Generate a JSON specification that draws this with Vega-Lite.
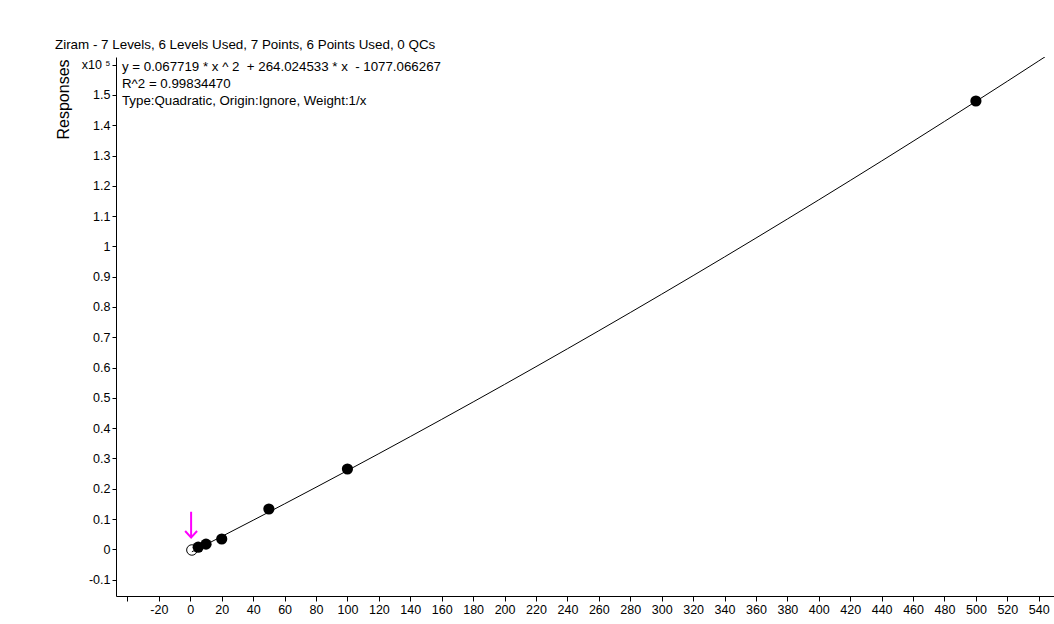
{
  "$schema": "https://vega.github.io/schema/vega-lite/v6.json",
  "width": 938,
  "height": 539,
  "autosize": {"type": "none"},
  "padding": {"left": 116, "top": 57, "right": 0, "bottom": 28},
  "background": "white",
  "config": {
    "view": {"stroke": null},
    "font": "Liberation Sans",
    "axis": {
      "grid": false,
      "domainColor": "black",
      "tickColor": "black",
      "labelColor": "black",
      "labelFont": "Liberation Sans",
      "labelFontSize": 12.5,
      "titleFont": "Liberation Sans",
      "titleFontWeight": "normal",
      "titleColor": "black"
    }
  },
  "title": {
    "text": "Ziram - 7 Levels, 6 Levels Used, 7 Points, 6 Points Used, 0 QCs",
    "anchor": "start",
    "frame": "group",
    "dx": -61,
    "dy": 12,
    "offset": 7,
    "baseline": "alphabetic",
    "fontSize": 13.4,
    "fontWeight": "normal",
    "font": "Liberation Sans",
    "color": "black"
  },
  "datasets": {
    "curve": [
      {"conc": 1, "resp": -812.97},
      {"conc": 5, "resp": 244.75},
      {"conc": 10, "resp": 1569.95},
      {"conc": 20, "resp": 4230.51},
      {"conc": 40, "resp": 9592.26},
      {"conc": 60, "resp": 15008.19},
      {"conc": 80, "resp": 20478.29},
      {"conc": 100, "resp": 26002.57},
      {"conc": 120, "resp": 31581.02},
      {"conc": 140, "resp": 37213.65},
      {"conc": 160, "resp": 42900.47},
      {"conc": 180, "resp": 48641.45},
      {"conc": 200, "resp": 54436.6},
      {"conc": 220, "resp": 60285.93},
      {"conc": 240, "resp": 66189.43},
      {"conc": 260, "resp": 72147.11},
      {"conc": 280, "resp": 78158.97},
      {"conc": 300, "resp": 84225.0},
      {"conc": 320, "resp": 90345.21},
      {"conc": 340, "resp": 96519.59},
      {"conc": 360, "resp": 102748.14},
      {"conc": 380, "resp": 109030.87},
      {"conc": 400, "resp": 115367.78},
      {"conc": 420, "resp": 121758.86},
      {"conc": 440, "resp": 128204.12},
      {"conc": 460, "resp": 134703.56},
      {"conc": 480, "resp": 141257.17},
      {"conc": 500, "resp": 147864.95},
      {"conc": 520, "resp": 154526.91},
      {"conc": 540, "resp": 161243.04},
      {"conc": 545, "resp": 162930.5}
    ],
    "points": [
      {"conc": 1, "resp": -230, "used": "no"},
      {"conc": 5, "resp": 700, "used": "yes"},
      {"conc": 10, "resp": 1700, "used": "yes"},
      {"conc": 20, "resp": 3400, "used": "yes"},
      {"conc": 50, "resp": 13300, "used": "yes"},
      {"conc": 100, "resp": 26500, "used": "yes"},
      {"conc": 500, "resp": 148000, "used": "yes"}
    ],
    "notes": [
      {"conc": -43.5, "resp": 159300, "label": "y = 0.067719 * x ^ 2 \u00a0+ 264.024533 * x \u00a0- 1077.066267"},
      {"conc": -43.5, "resp": 153700, "label": "R^2 = 0.99834470"},
      {"conc": -43.5, "resp": 148100, "label": "Type:Quadratic, Origin:Ignore, Weight:1/x"}
    ],
    "marker": [
      {"conc": 0.5, "resp": 8000}
    ]
  },
  "encoding": {
    "x": {
      "field": "conc",
      "type": "quantitative",
      "scale": {"domain": [-47.3, 549.7], "nice": false, "zero": false},
      "axis": {
        "title": null,
        "values": [-40, -20, 0, 20, 40, 60, 80, 100, 120, 140, 160, 180, 200, 220, 240, 260, 280, 300, 320, 340, 360, 380, 400, 420, 440, 460, 480, 500, 520, 540],
        "labelExpr": "datum.value < -30 ? '' : toString(datum.value)",
        "tickSize": 5,
        "labelPadding": 2,
        "labelFlush": false,
        "labelOverlap": false
      }
    },
    "y": {
      "field": "resp",
      "type": "quantitative",
      "scale": {"domain": [-15420, 162530], "nice": false, "zero": false},
      "axis": {
        "title": "Responses",
        "titleFontSize": 16,
        "titleAngle": -90,
        "titleAlign": "center",
        "titleBaseline": "middle",
        "titleX": -53,
        "titleY": 42,
        "values": [-10000, 0, 10000, 20000, 30000, 40000, 50000, 60000, 70000, 80000, 90000, 100000, 110000, 120000, 130000, 140000, 150000, 160000],
        "labelExpr": "datum.value == 160000 ? 'x10 ⁵' : toString(round(datum.value / 10000) / 10)",
        "tickSize": 4,
        "labelPadding": 2,
        "labelFlush": false,
        "labelOverlap": false
      }
    }
  },
  "layer": [
    {
      "data": {"name": "curve"},
      "mark": {"type": "line", "color": "black", "strokeWidth": 1, "clip": true}
    },
    {
      "data": {"name": "points"},
      "transform": [{"filter": "datum.used == 'yes'"}],
      "mark": {"type": "point", "filled": true, "color": "black", "size": 125, "opacity": 1}
    },
    {
      "data": {"name": "points"},
      "transform": [{"filter": "datum.used == 'no'"}],
      "mark": {"type": "point", "filled": false, "stroke": "black", "strokeWidth": 1, "size": 110, "opacity": 1}
    },
    {
      "data": {"name": "marker"},
      "mark": {
        "type": "point",
        "shape": "M0,-1 L0,0.95 M-0.45,0.45 L0,0.95 L0.45,0.45",
        "filled": false,
        "stroke": "#FF00FF",
        "strokeWidth": 2,
        "size": 700,
        "opacity": 1
      }
    },
    {
      "data": {"name": "notes"},
      "mark": {"type": "text", "align": "left", "baseline": "middle", "font": "Liberation Sans", "fontSize": 13.3, "color": "black"},
      "encoding": {"text": {"field": "label"}}
    }
  ]
}
